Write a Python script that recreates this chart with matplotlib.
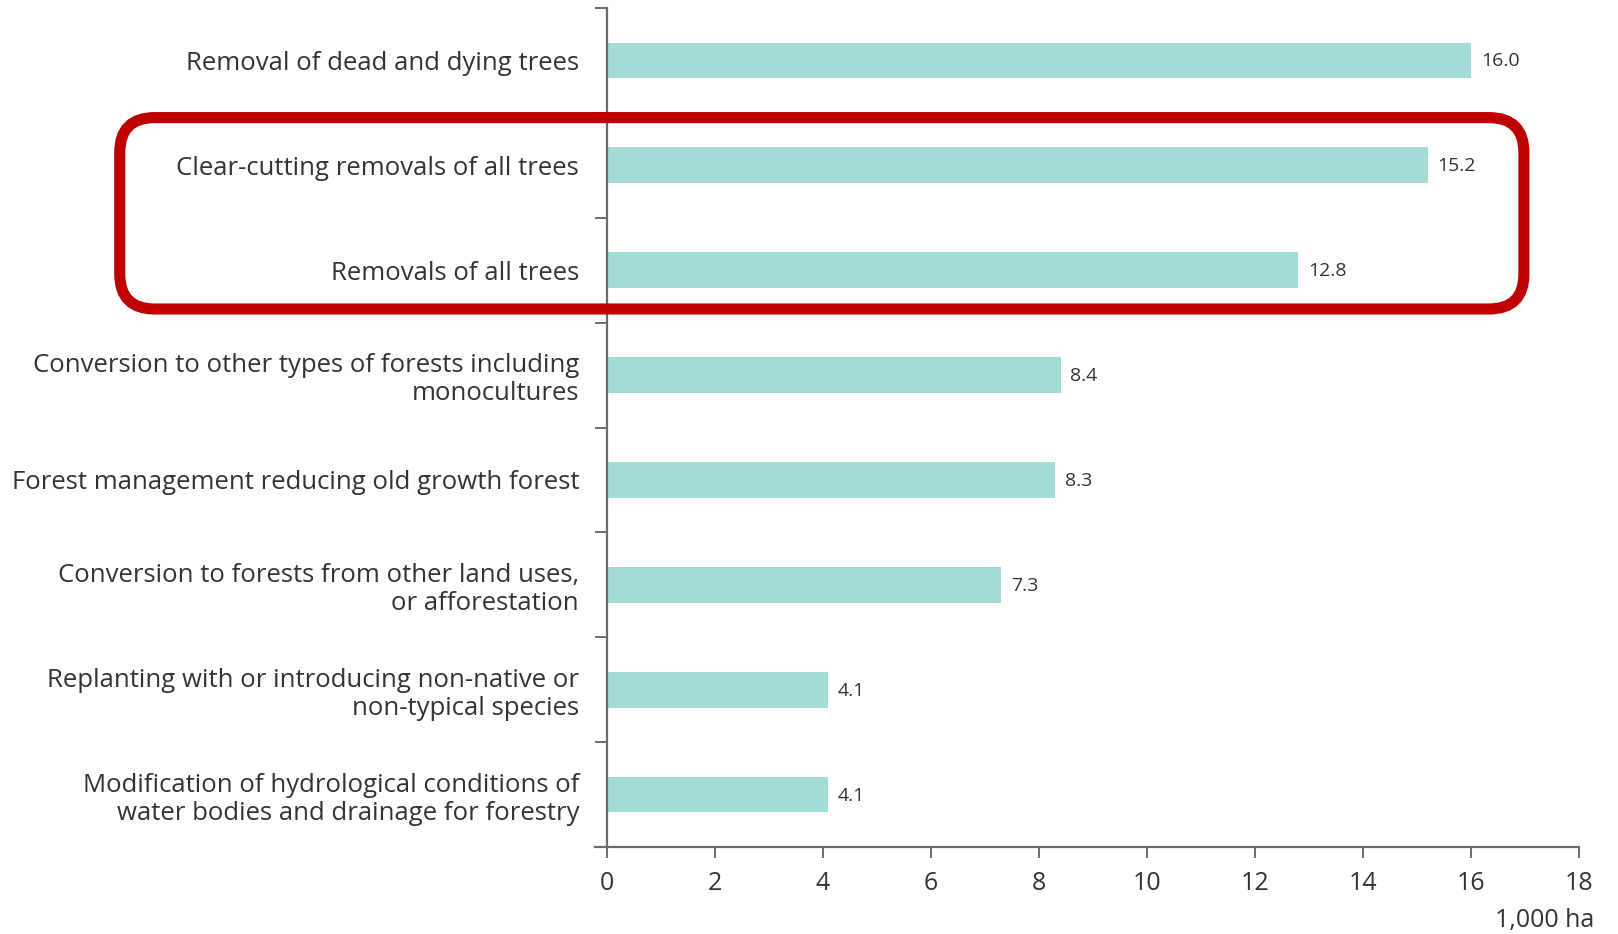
import matplotlib.pyplot as plt
from matplotlib.patches import FancyBboxPatch
import numpy as np

plt.rcParams['font.family'] = ['Open Sans', 'DejaVu Sans']

categories = [
    "Removal of dead and dying trees",
    "Clear-cutting removals of all trees",
    "Removals of all trees",
    "Conversion to other types of forests including\nmonocultures",
    "Forest management reducing old growth forest",
    "Conversion to forests from other land uses,\nor afforestation",
    "Replanting with or introducing non-native or\nnon-typical species",
    "Modification of hydrological conditions of\nwater bodies and drainage for forestry",
]
values = [16.0, 15.2, 12.8, 8.4, 8.3, 7.3, 4.1, 4.1]
xticks = [0, 2, 4, 6, 8, 10, 12, 14, 16, 18]
highlight = [1, 2]  # rows inside the red frame

bar_color = "#A3DCD6"
axis_color = "#6b6b6b"
text_color = "#333333"

fig = plt.figure(figsize=(16.18, 9.34), dpi=100)
ax = fig.add_axes([595 / 1618, 1 - 847 / 934, (1579 - 595) / 1618, (847 - 8) / 934])

y = np.arange(len(categories))
ax.barh(y, values, height=0.34, color=bar_color, zorder=2)
for yi, v in zip(y, values):
    ax.text(v + 0.18, yi - 0.01, f"{v:.1f}", va="center_baseline", ha="left",
            fontsize=14, color=text_color)

ax.set_xlim(-0.22, 18)
ax.set_ylim(len(categories) - 0.5, -0.5)
ax.set_xticks(xticks)
ax.set_xticklabels([str(t) for t in xticks])
ax.set_yticks(y)
ax.set_yticks(np.arange(-0.5, len(categories) - 1, 1), minor=True)

for side in ["top", "right"]:
    ax.spines[side].set_visible(False)
ax.spines["left"].set_position(("data", 0))
for side in ["left", "bottom"]:
    ax.spines[side].set_color(axis_color)
    ax.spines[side].set_linewidth(1.6)

ax.tick_params(axis="y", which="major", length=0, pad=20,
               labelsize=18.5, labelcolor=text_color)
ax.tick_params(axis="y", which="minor", length=9, width=1.4, color=axis_color)
ax.tick_params(axis="x", length=8, width=1.4, color=axis_color, pad=9,
               labelsize=18, labelcolor=text_color)
ax.set_yticklabels(categories, linespacing=1.18)

fig.text(1594 / 1618, 1 - 920 / 934, "1,000 ha", ha="right", va="center",
         fontsize=18, color=text_color)

# rounded red frame around the highlighted rows
x0, x1 = -9.02, 16.98
y0, y1 = highlight[0] - 0.455, highlight[-1] + 0.37
aspect = (839 / len(categories)) ** -1 / (1 / 54.0)
frame = FancyBboxPatch((x0, y0), x1 - x0, y1 - y0,
                       boxstyle="round,pad=0,rounding_size=0.65",
                       mutation_aspect=aspect,
                       fill=False, edgecolor="#C00000", linewidth=8,
                       clip_on=False, zorder=5)
ax.add_patch(frame)

fig.savefig("out.png", dpi=100)
